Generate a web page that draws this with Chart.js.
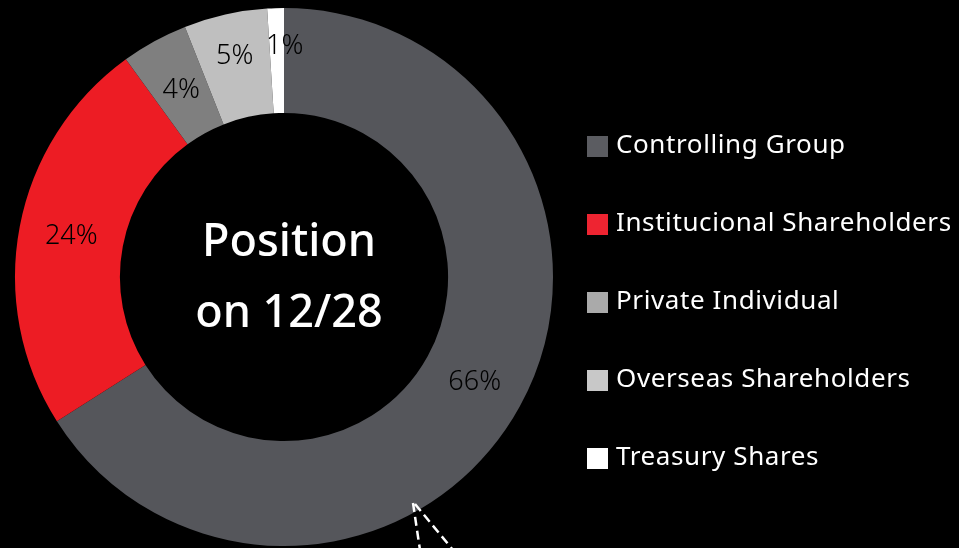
<!DOCTYPE html>
<html>
<head>
<meta charset="utf-8">
<script src="https://cdn.jsdelivr.net/npm/chart.js@4/dist/chart.umd.min.js"></script>
<style>
  html, body { margin: 0; padding: 0; background: #000; }
  #wrap { width: 959px; height: 548px; position: relative; }
</style>
</head>
<body>
<div id="wrap"><canvas id="shareChart" width="959" height="548"></canvas></div>
<script>
const labels = ['Controlling Group', 'Institucional Shareholders', 'Private Individual', 'Overseas Shareholders', 'Treasury Shares'];
const shares = [66, 24, 4, 5, 1];
const sliceColors = ['#55565b', '#ed1c24', '#7f7f7f', '#bfbfbf', '#ffffff'];
const legendColors = ['#5b5c61', '#ee2431', '#aaaaaa', '#c8c8c8', '#ffffff'];
const centerLines = ['Position', 'on 12/28'];

// where each percent sits across the ring (0 = inner edge, 1 = outer edge)
const labelDepth = [0.51, 0.5, 0.47, 0.59, 0.64];
const labelShiftX = [0, 0, 0, 0, 8];

const percentLabels = {
  id: 'percentLabels',
  afterDatasetsDraw(chart) {
    const ctx = chart.ctx;
    const arcs = chart.getDatasetMeta(0).data;
    ctx.save();
    ctx.font = '300 27px "Noto Sans"';
    ctx.fillStyle = '#000';
    ctx.textAlign = 'center';
    ctx.textBaseline = 'middle';
    arcs.forEach((arc, i) => {
      const p = arc.getProps(['x', 'y', 'startAngle', 'endAngle', 'innerRadius', 'outerRadius'], true);
      const mid = (p.startAngle + p.endAngle) / 2;
      const r = p.innerRadius + (p.outerRadius - p.innerRadius) * labelDepth[i];
      ctx.fillText(shares[i] + '%', p.x + Math.cos(mid) * r + labelShiftX[i], p.y + Math.sin(mid) * r);
    });
    ctx.restore();
  }
};

const centerText = {
  id: 'centerText',
  afterDraw(chart) {
    const ctx = chart.ctx;
    const arc = chart.getDatasetMeta(0).data[0];
    ctx.save();
    ctx.font = '500 45px "Noto Sans"';
    ctx.fillStyle = '#fff';
    ctx.textAlign = 'center';
    ctx.textBaseline = 'middle';
    ctx.fillText(centerLines[0], arc.x + 5, arc.y - 34);
    ctx.fillText(centerLines[1], arc.x + 5, arc.y + 37);
    ctx.restore();
  }
};

// legend drawn by hand so the rows keep their wide spacing
const sideLegend = {
  id: 'sideLegend',
  afterDraw(chart) {
    const ctx = chart.ctx;
    const left = chart.chartArea.right + 34;
    ctx.save();
    ctx.font = '26px "Noto Sans"';
    ctx.letterSpacing = '0.6px';
    ctx.textBaseline = 'middle';
    labels.forEach((name, i) => {
      const y = 146 + i * 78;
      ctx.fillStyle = legendColors[i];
      ctx.fillRect(left, y - 10, 21, 21);
      ctx.fillStyle = '#fff';
      ctx.fillText(name, left + 29, y);
    });
    ctx.restore();
  }
};

// dashed pointer below the ring
const pointer = {
  id: 'pointer',
  afterDraw(chart) {
    const ctx = chart.ctx;
    ctx.save();
    ctx.strokeStyle = '#fff';
    ctx.lineWidth = 2.5;
    ctx.setLineDash([9, 5]);
    ctx.beginPath();
    ctx.moveTo(413, 503);
    ctx.lineTo(420, 550);
    ctx.moveTo(415, 504);
    ctx.lineTo(453, 550);
    ctx.stroke();
    ctx.restore();
  }
};

new Chart(document.getElementById('shareChart'), {
  type: 'doughnut',
  data: {
    labels,
    datasets: [{
      data: shares,
      backgroundColor: sliceColors,
      borderWidth: 0
    }]
  },
  options: {
    responsive: false,
    animation: false,
    cutout: '61%',
    layout: { padding: { left: 15, top: 8, right: 406, bottom: 2 } },
    plugins: {
      legend: { display: false },
      tooltip: { enabled: false }
    }
  },
  plugins: [percentLabels, centerText, sideLegend, pointer]
});
</script>
</body>
</html>
